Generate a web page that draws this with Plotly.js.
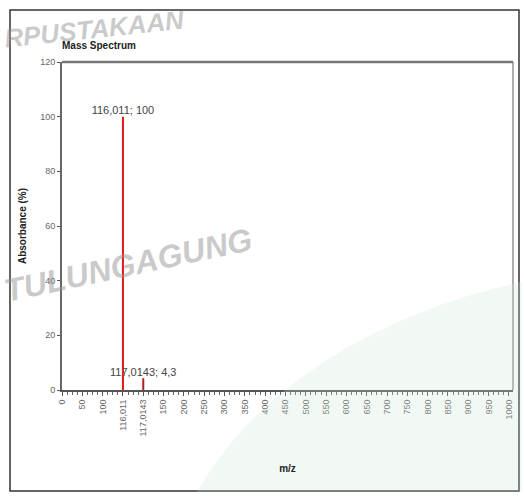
<!DOCTYPE html>
<html><head><meta charset="utf-8">
<script src="https://cdn.plot.ly/plotly-3.0.1.min.js"></script>
<style>html,body{margin:0;padding:0;background:#fff;}#chart{width:524px;height:496px;}</style>
</head><body><div id="chart"></div>
<script>
// Category tick labels on the m/z axis
const categories = ["0","50","100","116,011","117,0143","150","200","250","300","350","400","450","500","550","600","650","700","750","800","850","900","950","1000"];
// Peaks
const peakLabels = ["116,011","117,0143"];
const peakValues = [100, 4.3];
const peakText = ["116,011; 100", "117,0143; 4,3"];
const peakColors = ["#e31a1c", "#b22222"];

const catIndex = categories.map((c, i) => i);
const peakX = peakLabels.map(l => categories.indexOf(l));

const font = "'Liberation Sans Narrow', 'Arial Narrow', 'Liberation Sans', sans-serif";

const traces = [
  {
    type: "bar", x: peakX, y: peakValues, width: 0.1,
    marker: {color: peakColors, line: {width: 0}},
    hoverinfo: "skip", showlegend: false
  },
  {
    type: "scatter", mode: "text", x: peakX, y: peakValues,
    text: peakText, textposition: "top center",
    textfont: {family: font, size: 11, color: "#444"},
    cliponaxis: false, hoverinfo: "skip", showlegend: false
  }
];

const layout = {
  width: 524, height: 496,
  margin: {l: 62, r: 11, t: 62, b: 106},
  paper_bgcolor: "#fff", plot_bgcolor: "#fff",
  font: {family: font, color: "#555"},
  title: {text: "<b>Mass Spectrum</b>", font: {family: font, size: 10, color: "#222"},
          x: 62/524, xanchor: "left", y: 1 - 45/496, yanchor: "middle"},
  xaxis: {
    range: [0, 22.2], tickmode: "array", tickvals: catIndex, ticktext: categories,
    tickangle: -90, tickfont: {family: font, size: 9, color: "#666"},
    ticks: "outside", ticklen: 4, tickcolor: "#555",
    minor: {dtick: 0.25, ticks: "outside", ticklen: 3, tickcolor: "#666"},
    showgrid: false, zeroline: false,
    showline: true, linecolor: "#555", linewidth: 2, mirror: false,
    title: {text: "<b>m/z</b>", font: {family: font, size: 10, color: "#222"}, standoff: 30}
  },
  yaxis: {
    range: [0, 120], dtick: 20, ticks: "outside", ticklen: 3, tickcolor: "#555",
    tickfont: {family: font, size: 9, color: "#666"},
    showgrid: false, zeroline: false,
    showline: true, linecolor: "#666", linewidth: 2,
    title: {text: "<b>Absorbance (%)</b>", font: {family: font, size: 10, color: "#222"}, standoff: 12}
  },
  shapes: [
    // outer chart-area border
    {type: "rect", xref: "paper", yref: "paper", x0: -0.1153, x1: 1.0133, y0: -0.3079, y1: 1.1585,
     line: {color: "#333", width: 1.5}, fillcolor: "rgba(0,0,0,0)", layer: "below"},
    // plot frame top and right
    {type: "line", xref: "paper", yref: "paper", x0: 0, x1: 1, y0: 1, y1: 1, line: {color: "#777", width: 2.5}},
    {type: "line", xref: "paper", yref: "paper", x0: 1, x1: 1, y0: 0, y1: 1, line: {color: "#777", width: 1.2}},
    // faint green watermark region
    {type: "path", xref: "paper", yref: "paper",
     path: "M 0.30,-0.31 C 0.45,0.05 0.75,0.25 1.02,0.33 L 1.02,-0.31 Z",
     fillcolor: "rgba(205,228,210,0.25)", line: {width: 0}, layer: "above"}
  ],
  annotations: [
    {text: "<b><i>RPUSTAKAAN</i></b>", xref: "paper", yref: "paper", x: -0.135, y: 1.10,
     xanchor: "left", yanchor: "middle", showarrow: false, textangle: -6,
     font: {family: "'Liberation Sans', sans-serif", size: 26, color: "rgba(150,150,150,0.5)"}},
    {text: "<b><i>TULUNGAGUNG</i></b>", xref: "paper", yref: "paper", x: -0.14, y: 0.38,
     xanchor: "left", yanchor: "middle", showarrow: false, textangle: -12,
     font: {family: "'Liberation Sans', sans-serif", size: 32, color: "rgba(150,150,150,0.5)"}}
  ]
};

Plotly.newPlot("chart", traces, layout, {displayModeBar: false, staticPlot: true});
</script></body></html>
